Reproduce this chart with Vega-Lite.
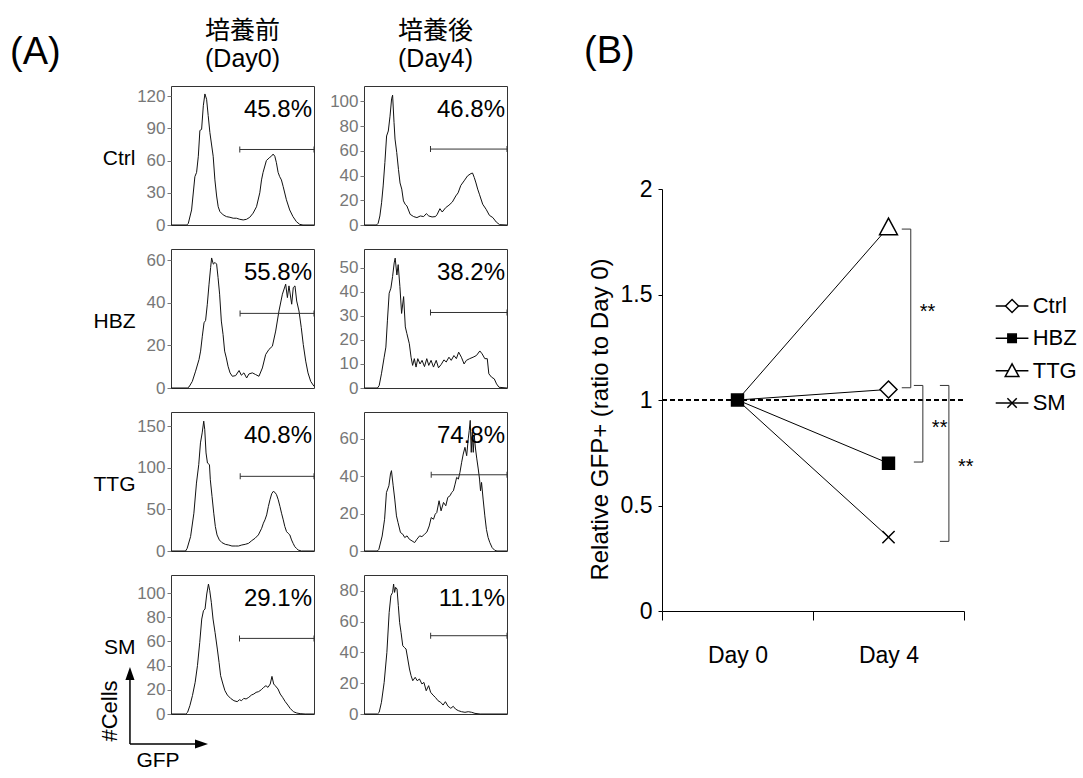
{
"$schema": "https://vega.github.io/schema/vega-lite/v6.json",
"autosize": {"type": "pad"},
"padding": {"left": 10, "top": 18, "right": 2, "bottom": 2},
"background": "white",
"config": {
 "font": "Liberation Sans, Noto Sans CJK JP",
 "view": {"stroke": "#333", "strokeWidth": 1},
 "title": {"fontWeight": "normal", "color": "black"},
 "axis": {"grid": false, "titleFontWeight": "normal", "titleColor": "black", "labelColor": "black"},
 "text": {"color": "black"}
},
"datasets": {
 "ctrl_d0": [{"gfp":0,"cells":0},{"gfp":11,"cells":0},{"gfp":12.1,"cells":1.5},{"gfp":14.4,"cells":14},{"gfp":16.7,"cells":45},{"gfp":17.9,"cells":49},{"gfp":19.1,"cells":64},{"gfp":20.2,"cells":88},{"gfp":21.4,"cells":89},{"gfp":22.6,"cells":111},{"gfp":23.7,"cells":122},{"gfp":24.9,"cells":117},{"gfp":26,"cells":102},{"gfp":27.2,"cells":86},{"gfp":29.5,"cells":64},{"gfp":30.7,"cells":42},{"gfp":31.9,"cells":27},{"gfp":33,"cells":17},{"gfp":34.2,"cells":12.5},{"gfp":36.5,"cells":9.4},{"gfp":38.8,"cells":7.8},{"gfp":41.2,"cells":7.2},{"gfp":43.5,"cells":6.3},{"gfp":45.8,"cells":6.3},{"gfp":48.1,"cells":5.3},{"gfp":50.5,"cells":4.7},{"gfp":52.8,"cells":5.3},{"gfp":55.1,"cells":7.2},{"gfp":57.4,"cells":11},{"gfp":59.8,"cells":17},{"gfp":62.1,"cells":30},{"gfp":63.3,"cells":42},{"gfp":64.4,"cells":49},{"gfp":66.7,"cells":60},{"gfp":69.1,"cells":63},{"gfp":70.2,"cells":64},{"gfp":71.4,"cells":66},{"gfp":72.6,"cells":64},{"gfp":73.7,"cells":58},{"gfp":74.9,"cells":49},{"gfp":76,"cells":45},{"gfp":77.2,"cells":42},{"gfp":78.4,"cells":36},{"gfp":80.7,"cells":23.5},{"gfp":83,"cells":14},{"gfp":85.3,"cells":7.8},{"gfp":87.7,"cells":3.1},{"gfp":90,"cells":0.6},{"gfp":92.3,"cells":0},{"gfp":100,"cells":0}],
 "ctrl_d4": [{"gfp":0,"cells":0},{"gfp":8.7,"cells":0},{"gfp":9.9,"cells":1.4},{"gfp":11.1,"cells":7.3},{"gfp":12.3,"cells":18},{"gfp":13.4,"cells":31.6},{"gfp":14.6,"cells":50.5},{"gfp":15.8,"cells":72},{"gfp":17,"cells":76},{"gfp":18.2,"cells":88},{"gfp":19.3,"cells":102},{"gfp":20,"cells":105},{"gfp":21,"cells":83},{"gfp":21.7,"cells":69.5},{"gfp":22.9,"cells":58.6},{"gfp":24.1,"cells":45},{"gfp":25.2,"cells":34},{"gfp":26.4,"cells":29},{"gfp":27.6,"cells":19.5},{"gfp":28.8,"cells":16.8},{"gfp":30,"cells":15.4},{"gfp":32.3,"cells":8.6},{"gfp":34.7,"cells":6.8},{"gfp":37,"cells":6},{"gfp":39.4,"cells":7.3},{"gfp":41.7,"cells":6.8},{"gfp":43.6,"cells":9.2},{"gfp":45.3,"cells":7.3},{"gfp":47.6,"cells":6.5},{"gfp":50,"cells":6.8},{"gfp":51.2,"cells":8.6},{"gfp":53.1,"cells":13.2},{"gfp":54.7,"cells":10.5},{"gfp":57.1,"cells":14},{"gfp":59.4,"cells":16},{"gfp":61.8,"cells":18.6},{"gfp":64.2,"cells":23.5},{"gfp":65.8,"cells":26},{"gfp":67.7,"cells":32},{"gfp":70,"cells":35.7},{"gfp":72.4,"cells":39.7},{"gfp":74.8,"cells":41.6},{"gfp":75.9,"cells":42},{"gfp":77.1,"cells":38.4},{"gfp":78.3,"cells":34},{"gfp":79.5,"cells":29},{"gfp":80.7,"cells":24.9},{"gfp":83,"cells":16.8},{"gfp":85.4,"cells":12.7},{"gfp":87.7,"cells":7.8},{"gfp":90.1,"cells":6},{"gfp":92.5,"cells":2.4},{"gfp":94.8,"cells":0.3},{"gfp":100,"cells":0}],
 "hbz_d0": [{"gfp":0,"cells":0},{"gfp":11.4,"cells":0},{"gfp":12.6,"cells":0.5},{"gfp":14.9,"cells":3.1},{"gfp":17.2,"cells":7.9},{"gfp":19.6,"cells":13.4},{"gfp":20.7,"cells":17.3},{"gfp":21.9,"cells":24.3},{"gfp":23.1,"cells":30.6},{"gfp":24.2,"cells":31.7},{"gfp":25.4,"cells":39.3},{"gfp":26.6,"cells":48.7},{"gfp":27.7,"cells":56.5},{"gfp":28.4,"cells":61},{"gfp":29.6,"cells":58.1},{"gfp":30.8,"cells":58.9},{"gfp":31.9,"cells":58.1},{"gfp":32.9,"cells":51.8},{"gfp":34,"cells":44},{"gfp":35.2,"cells":31.4},{"gfp":36.4,"cells":25.1},{"gfp":37.5,"cells":17.3},{"gfp":38.7,"cells":14.1},{"gfp":39.9,"cells":10.2},{"gfp":41.3,"cells":7.1},{"gfp":42.9,"cells":5.5},{"gfp":45.2,"cells":5.8},{"gfp":47.6,"cells":8.2},{"gfp":49.2,"cells":6},{"gfp":51,"cells":7.1},{"gfp":52.9,"cells":4.7},{"gfp":54.5,"cells":6.6},{"gfp":56.9,"cells":7.1},{"gfp":59.2,"cells":6.3},{"gfp":61.5,"cells":5.5},{"gfp":63.9,"cells":9.4},{"gfp":66.2,"cells":15.7},{"gfp":68.5,"cells":18.1},{"gfp":70.9,"cells":19.6},{"gfp":73.2,"cells":26.7},{"gfp":75.5,"cells":36.1},{"gfp":77.9,"cells":44},{"gfp":80.2,"cells":48.7},{"gfp":81.4,"cells":42.4},{"gfp":82.5,"cells":47.9},{"gfp":84.4,"cells":39.3},{"gfp":85.5,"cells":47.1},{"gfp":86.7,"cells":47.9},{"gfp":87.9,"cells":40.8},{"gfp":89.5,"cells":36.1},{"gfp":91.1,"cells":28.3},{"gfp":92.5,"cells":20.4},{"gfp":94.2,"cells":12.6},{"gfp":95.8,"cells":7.1},{"gfp":97.7,"cells":3.1},{"gfp":100,"cells":0.8}],
 "hbz_d4": [{"gfp":0,"cells":0},{"gfp":9.4,"cells":0},{"gfp":10.6,"cells":1},{"gfp":12.2,"cells":5.9},{"gfp":14.1,"cells":12.8},{"gfp":15.3,"cells":17},{"gfp":16.4,"cells":28.2},{"gfp":17.6,"cells":39.4},{"gfp":18.8,"cells":41.5},{"gfp":20,"cells":46.4},{"gfp":21.1,"cells":52},{"gfp":21.8,"cells":54},{"gfp":23,"cells":47},{"gfp":23.9,"cells":51.3},{"gfp":25.1,"cells":42.2},{"gfp":26.3,"cells":31},{"gfp":27.7,"cells":38},{"gfp":28.9,"cells":25.4},{"gfp":30,"cells":22.6},{"gfp":31.7,"cells":18.4},{"gfp":32.9,"cells":12.8},{"gfp":34,"cells":9.4},{"gfp":35.2,"cells":12.2},{"gfp":36.4,"cells":8.7},{"gfp":37.6,"cells":12.2},{"gfp":39.2,"cells":10},{"gfp":40.6,"cells":11.5},{"gfp":42.3,"cells":8.9},{"gfp":43.9,"cells":12.2},{"gfp":45.3,"cells":9.4},{"gfp":46.9,"cells":11.5},{"gfp":48.6,"cells":8.7},{"gfp":50.5,"cells":11.5},{"gfp":52.1,"cells":8.4},{"gfp":54,"cells":9.8},{"gfp":55.9,"cells":11.7},{"gfp":57.5,"cells":10.8},{"gfp":59.4,"cells":12.8},{"gfp":61,"cells":11.5},{"gfp":62.9,"cells":13.5},{"gfp":64.6,"cells":12.2},{"gfp":66.2,"cells":14.9},{"gfp":68.1,"cells":12.8},{"gfp":70,"cells":10},{"gfp":71.6,"cells":11.5},{"gfp":73.9,"cells":12.2},{"gfp":76.3,"cells":12.8},{"gfp":78.6,"cells":13.5},{"gfp":81,"cells":15.4},{"gfp":82.6,"cells":14.2},{"gfp":84.5,"cells":12.2},{"gfp":86.2,"cells":12.2},{"gfp":87.3,"cells":5.9},{"gfp":89.2,"cells":4.5},{"gfp":91.1,"cells":3.8},{"gfp":92.7,"cells":1.7},{"gfp":94.4,"cells":0.3},{"gfp":100,"cells":0}],
 "ttg_d0": [{"gfp":0,"cells":0},{"gfp":10.2,"cells":0},{"gfp":11.3,"cells":3.2},{"gfp":13.7,"cells":17.3},{"gfp":16,"cells":45.4},{"gfp":17.8,"cells":81.6},{"gfp":19.4,"cells":103.7},{"gfp":20.6,"cells":129.9},{"gfp":21.8,"cells":141.9},{"gfp":22.9,"cells":156},{"gfp":23.6,"cells":146},{"gfp":24.5,"cells":117.8},{"gfp":25.5,"cells":105.7},{"gfp":26.9,"cells":103.7},{"gfp":27.5,"cells":85.6},{"gfp":28.7,"cells":65.5},{"gfp":29.9,"cells":45.4},{"gfp":31,"cells":29.4},{"gfp":32.2,"cells":19.3},{"gfp":33.8,"cells":13.3},{"gfp":35.6,"cells":10.1},{"gfp":38,"cells":8},{"gfp":40.3,"cells":7.2},{"gfp":42.6,"cells":6},{"gfp":44.9,"cells":6},{"gfp":47.2,"cells":6},{"gfp":49.5,"cells":7.2},{"gfp":51.9,"cells":8},{"gfp":54.2,"cells":9.2},{"gfp":56.5,"cells":12.5},{"gfp":58.8,"cells":15.3},{"gfp":61.1,"cells":19.3},{"gfp":63.4,"cells":27.3},{"gfp":64.6,"cells":33.4},{"gfp":65.7,"cells":37.4},{"gfp":66.9,"cells":43.4},{"gfp":68.1,"cells":53.5},{"gfp":69.2,"cells":61.5},{"gfp":70.4,"cells":68.8},{"gfp":71.5,"cells":71.6},{"gfp":72.7,"cells":70.4},{"gfp":73.8,"cells":67.6},{"gfp":75,"cells":61.5},{"gfp":76.2,"cells":53.5},{"gfp":77.3,"cells":45.4},{"gfp":78.5,"cells":37.4},{"gfp":79.6,"cells":29.4},{"gfp":80.8,"cells":23.3},{"gfp":81.9,"cells":21.3},{"gfp":83.1,"cells":19.3},{"gfp":84.3,"cells":13.3},{"gfp":85.4,"cells":9.2},{"gfp":86.6,"cells":5.2},{"gfp":87.7,"cells":3.2},{"gfp":88.9,"cells":1.2},{"gfp":91.2,"cells":0},{"gfp":100,"cells":0}],
 "ttg_d4": [{"gfp":0,"cells":0},{"gfp":9.3,"cells":0},{"gfp":10.4,"cells":0.9},{"gfp":12.7,"cells":8},{"gfp":14.4,"cells":17},{"gfp":15.7,"cells":31.3},{"gfp":17.4,"cells":34.9},{"gfp":18.5,"cells":41.2},{"gfp":19.2,"cells":43},{"gfp":20.4,"cells":34.9},{"gfp":21.5,"cells":27.8},{"gfp":22.7,"cells":18.8},{"gfp":23.8,"cells":15.2},{"gfp":25.5,"cells":9.9},{"gfp":27.1,"cells":9},{"gfp":28.5,"cells":7.2},{"gfp":30.1,"cells":8.1},{"gfp":31.7,"cells":6.3},{"gfp":33.6,"cells":5.4},{"gfp":35.4,"cells":4.5},{"gfp":37,"cells":6.3},{"gfp":38.9,"cells":8.1},{"gfp":40.5,"cells":7.7},{"gfp":42.4,"cells":9},{"gfp":44,"cells":10.2},{"gfp":45.6,"cells":13.4},{"gfp":47,"cells":17.9},{"gfp":48.6,"cells":17},{"gfp":49.8,"cells":19.7},{"gfp":50.9,"cells":20.6},{"gfp":52.5,"cells":26.9},{"gfp":53.9,"cells":21.5},{"gfp":55.6,"cells":26},{"gfp":57.2,"cells":24.2},{"gfp":58.6,"cells":28.7},{"gfp":60.2,"cells":29.6},{"gfp":61.3,"cells":31.3},{"gfp":62.5,"cells":32.2},{"gfp":63.7,"cells":35.8},{"gfp":64.8,"cells":39.4},{"gfp":66,"cells":38.5},{"gfp":67.1,"cells":42.1},{"gfp":68.3,"cells":47.5},{"gfp":69.4,"cells":51.9},{"gfp":70.6,"cells":55.5},{"gfp":71.8,"cells":51},{"gfp":72.9,"cells":60},{"gfp":73.6,"cells":64.5},{"gfp":74.3,"cells":69.9},{"gfp":75,"cells":52.8},{"gfp":75.7,"cells":63.6},{"gfp":76.4,"cells":52.8},{"gfp":77.1,"cells":61.8},{"gfp":78,"cells":54.6},{"gfp":78.9,"cells":49.3},{"gfp":79.9,"cells":43.9},{"gfp":80.8,"cells":38.5},{"gfp":81.5,"cells":32.2},{"gfp":82.2,"cells":36.7},{"gfp":83.3,"cells":27.8},{"gfp":84.5,"cells":18.8},{"gfp":85.6,"cells":11.6},{"gfp":86.8,"cells":7.2},{"gfp":88,"cells":4.5},{"gfp":89.6,"cells":1.8},{"gfp":91.4,"cells":0.4},{"gfp":93,"cells":0},{"gfp":100,"cells":0}],
 "sm_d0": [{"gfp":0,"cells":0},{"gfp":10.4,"cells":0},{"gfp":11.6,"cells":1.4},{"gfp":13.2,"cells":6.9},{"gfp":15,"cells":15.2},{"gfp":16.9,"cells":26.2},{"gfp":18.5,"cells":40},{"gfp":20.1,"cells":59.2},{"gfp":21.5,"cells":78.5},{"gfp":22.7,"cells":85.4},{"gfp":23.8,"cells":86.8},{"gfp":25,"cells":99.2},{"gfp":26.2,"cells":107.4},{"gfp":27.1,"cells":101.9},{"gfp":28.2,"cells":92.3},{"gfp":29.4,"cells":78.5},{"gfp":30.8,"cells":67.5},{"gfp":32.4,"cells":53.7},{"gfp":33.6,"cells":42.7},{"gfp":34.7,"cells":31.7},{"gfp":36.3,"cells":24.8},{"gfp":37.7,"cells":19.3},{"gfp":39.4,"cells":15.7},{"gfp":41.7,"cells":12.9},{"gfp":44,"cells":11},{"gfp":46.3,"cells":10.2},{"gfp":47.9,"cells":11.8},{"gfp":49.3,"cells":11},{"gfp":50.9,"cells":12.9},{"gfp":52.5,"cells":12.4},{"gfp":54.4,"cells":13.8},{"gfp":56.3,"cells":15.7},{"gfp":57.9,"cells":16.5},{"gfp":59.5,"cells":17.9},{"gfp":61.3,"cells":18.5},{"gfp":63.2,"cells":20.1},{"gfp":64.8,"cells":22},{"gfp":66.4,"cells":23.4},{"gfp":67.8,"cells":22},{"gfp":69.4,"cells":24.8},{"gfp":70.6,"cells":31.1},{"gfp":71.8,"cells":24.8},{"gfp":72.9,"cells":23.4},{"gfp":74.8,"cells":20.7},{"gfp":76.4,"cells":16.5},{"gfp":78,"cells":13.8},{"gfp":79.9,"cells":10.2},{"gfp":81.7,"cells":7.4},{"gfp":83.3,"cells":4.7},{"gfp":85.6,"cells":1.9},{"gfp":88,"cells":0.8},{"gfp":90.3,"cells":0.3},{"gfp":93.8,"cells":0},{"gfp":100,"cells":0}],
 "sm_d4": [{"gfp":0,"cells":0},{"gfp":9.4,"cells":0},{"gfp":10.6,"cells":1.1},{"gfp":12.2,"cells":7.6},{"gfp":14.1,"cells":20.5},{"gfp":16,"cells":40},{"gfp":17.6,"cells":65.9},{"gfp":18.8,"cells":76.8},{"gfp":20,"cells":78.9},{"gfp":20.7,"cells":84.3},{"gfp":21.4,"cells":78.9},{"gfp":22.1,"cells":82.2},{"gfp":23.1,"cells":81.1},{"gfp":24,"cells":70.3},{"gfp":24.9,"cells":59.5},{"gfp":25.9,"cells":53},{"gfp":27.1,"cells":44.3},{"gfp":28.2,"cells":43.2},{"gfp":29.4,"cells":42.2},{"gfp":30.6,"cells":35.7},{"gfp":31.8,"cells":29.2},{"gfp":32.9,"cells":24.9},{"gfp":34.1,"cells":21.6},{"gfp":35.8,"cells":23.8},{"gfp":37.2,"cells":21.6},{"gfp":38.8,"cells":22.7},{"gfp":40.5,"cells":19.5},{"gfp":41.9,"cells":20.5},{"gfp":43.5,"cells":15.1},{"gfp":45.2,"cells":18.4},{"gfp":46.6,"cells":14.1},{"gfp":48.2,"cells":12.3},{"gfp":49.9,"cells":10.8},{"gfp":51.8,"cells":8.6},{"gfp":53.6,"cells":7.6},{"gfp":55.3,"cells":5.8},{"gfp":56.9,"cells":8},{"gfp":58.8,"cells":5},{"gfp":60.7,"cells":3.7},{"gfp":62.4,"cells":5},{"gfp":64,"cells":3.2},{"gfp":65.9,"cells":2.2},{"gfp":68.2,"cells":1.5},{"gfp":70.6,"cells":1.1},{"gfp":72.9,"cells":1.5},{"gfp":75.3,"cells":1.1},{"gfp":77.6,"cells":0.4},{"gfp":81.2,"cells":0},{"gfp":100,"cells":0}],
 "gates": [{"panel":"Ctrl D0","threshold":48.1,"pct":"45.8%"},{"panel":"Ctrl D4","threshold":46.5,"pct":"46.8%"},{"panel":"HBZ D0","threshold":48.3,"pct":"55.8%"},{"panel":"HBZ D4","threshold":46.5,"pct":"38.2%"},{"panel":"TTG D0","threshold":48.4,"pct":"40.8%"},{"panel":"TTG D4","threshold":47,"pct":"74.8%"},{"panel":"SM D0","threshold":47.9,"pct":"29.1%"},{"panel":"SM D4","threshold":46.6,"pct":"11.1%"}],
 "ratio": [{"group":"Ctrl","day":0,"ratio":1},{"group":"TTG","day":0,"ratio":1},{"group":"SM","day":0,"ratio":1},{"group":"HBZ","day":0,"ratio":1},{"group":"Ctrl","day":4,"ratio":1.05},{"group":"TTG","day":4,"ratio":1.82},{"group":"SM","day":4,"ratio":0.35},{"group":"HBZ","day":4,"ratio":0.7}],
 "brackets": [{"pair":"TTG vs Ctrl","lane":4.59,"upper":1.81,"lower":1.058,"sig":"**"},{"pair":"HBZ vs Ctrl","lane":4.91,"upper":1.069,"lower":0.706,"sig":"**"},{"pair":"SM vs Ctrl","lane":5.6,"upper":1.069,"lower":0.33,"sig":"**"}]
},
"hconcat": [
 {
  "title": {"text": "(A)", "anchor": "start", "frame": "group", "fontSize": 38, "dx": -161, "dy": 83, "offset": 0, "baseline": "alphabetic"},
  "columns": 2,
  "spacing": {"row": 24, "column": 50},
  "bounds": "flush",
  "resolve": {"scale": {"x": "independent", "y": "independent"}},
  "concat": [
   {"width": 143, "height": 139,
    "title": {"text": ["培養前", "(Day0)"], "anchor": "middle", "frame": "group", "fontSize": 25, "lineHeight": 28, "baseline": "alphabetic", "offset": -6},
    "resolve": {"axis": {"x": "independent", "y": "independent"}},
    "layer": [
     {"data": {"name": "ctrl_d0"}, "mark": {"type": "line", "color": "#111", "strokeWidth": 1},
      "encoding": {"x": {"field": "gfp", "type": "quantitative", "scale": {"domain": [0, 100], "nice": false, "zero": false}, "axis": null},
                   "y": {"field": "cells", "type": "quantitative", "scale": {"domain": [0, 129.4], "nice": false}, "axis": {"values": [0, 30, 60, 90, 120], "title": "Ctrl", "titleAngle": 0, "titleAlign": "right", "titleBaseline": "middle", "titleX": -36, "titleY": 72, "titleFontSize": 21, "labelFontSize": 17, "labelColor": "#777", "tickColor": "#777", "tickSize": 4, "labelPadding": 2, "domain": false}}}},
     {"data": {"name": "gates"}, "transform": [{"filter": "datum.panel == 'Ctrl D0'"}],
      "layer": [
       {"mark": {"type": "rule", "color": "#333", "strokeWidth": 1}, "encoding": {"x": {"field": "threshold", "type": "quantitative", "axis": null}, "x2": {"datum": 100}, "y": {"datum": 70.3, "type": "quantitative", "axis": null}}},
       {"mark": {"type": "tick", "orient": "vertical", "size": 6, "thickness": 1, "color": "#333", "opacity": 1}, "encoding": {"x": {"field": "threshold", "type": "quantitative", "axis": null}, "y": {"datum": 70.3, "type": "quantitative", "axis": null}}},
       {"mark": {"type": "tick", "orient": "vertical", "size": 6, "thickness": 1, "color": "#333", "opacity": 1}, "encoding": {"x": {"datum": 100, "type": "quantitative", "axis": null}, "y": {"datum": 70.3, "type": "quantitative", "axis": null}}},
       {"mark": {"type": "text", "align": "right", "baseline": "alphabetic", "dx": -2, "fontSize": 24}, "encoding": {"x": {"datum": 100, "type": "quantitative", "axis": null}, "y": {"datum": 100.5, "type": "quantitative", "axis": null}, "text": {"field": "pct"}}}
      ]}
    ]},
   {"width": 143, "height": 139,
    "title": {"text": ["培養後", "(Day4)"], "anchor": "middle", "frame": "group", "fontSize": 25, "lineHeight": 28, "baseline": "alphabetic", "offset": -6},
    "resolve": {"axis": {"x": "independent", "y": "independent"}},
    "layer": [
     {"data": {"name": "ctrl_d4"}, "mark": {"type": "line", "color": "#111", "strokeWidth": 1},
      "encoding": {"x": {"field": "gfp", "type": "quantitative", "scale": {"domain": [0, 100], "nice": false, "zero": false}, "axis": null},
                   "y": {"field": "cells", "type": "quantitative", "scale": {"domain": [0, 112.4], "nice": false}, "axis": {"values": [0, 20, 40, 60, 80, 100], "title": null, "labelFontSize": 17, "labelColor": "#777", "tickColor": "#777", "tickSize": 4, "labelPadding": 2, "domain": false}}}},
     {"data": {"name": "gates"}, "transform": [{"filter": "datum.panel == 'Ctrl D4'"}],
      "layer": [
       {"mark": {"type": "rule", "color": "#333", "strokeWidth": 1}, "encoding": {"x": {"field": "threshold", "type": "quantitative", "axis": null}, "x2": {"datum": 100}, "y": {"datum": 61.4, "type": "quantitative", "axis": null}}},
       {"mark": {"type": "tick", "orient": "vertical", "size": 6, "thickness": 1, "color": "#333", "opacity": 1}, "encoding": {"x": {"field": "threshold", "type": "quantitative", "axis": null}, "y": {"datum": 61.4, "type": "quantitative", "axis": null}}},
       {"mark": {"type": "tick", "orient": "vertical", "size": 6, "thickness": 1, "color": "#333", "opacity": 1}, "encoding": {"x": {"datum": 100, "type": "quantitative", "axis": null}, "y": {"datum": 61.4, "type": "quantitative", "axis": null}}},
       {"mark": {"type": "text", "align": "right", "baseline": "alphabetic", "dx": -2, "fontSize": 24}, "encoding": {"x": {"datum": 100, "type": "quantitative", "axis": null}, "y": {"datum": 87.3, "type": "quantitative", "axis": null}, "text": {"field": "pct"}}}
      ]}
    ]},
   {"width": 143, "height": 139,
    "resolve": {"axis": {"x": "independent", "y": "independent"}},
    "layer": [
     {"data": {"name": "hbz_d0"}, "mark": {"type": "line", "color": "#111", "strokeWidth": 1},
      "encoding": {"x": {"field": "gfp", "type": "quantitative", "scale": {"domain": [0, 100], "nice": false, "zero": false}, "axis": null},
                   "y": {"field": "cells", "type": "quantitative", "scale": {"domain": [0, 65.2], "nice": false}, "axis": {"values": [0, 20, 40, 60], "title": "HBZ", "titleAngle": 0, "titleAlign": "right", "titleBaseline": "middle", "titleX": -36, "titleY": 72, "titleFontSize": 21, "labelFontSize": 17, "labelColor": "#777", "tickColor": "#777", "tickSize": 4, "labelPadding": 2, "domain": false}}}},
     {"data": {"name": "gates"}, "transform": [{"filter": "datum.panel == 'HBZ D0'"}],
      "layer": [
       {"mark": {"type": "rule", "color": "#333", "strokeWidth": 1}, "encoding": {"x": {"field": "threshold", "type": "quantitative", "axis": null}, "x2": {"datum": 100}, "y": {"datum": 35, "type": "quantitative", "axis": null}}},
       {"mark": {"type": "tick", "orient": "vertical", "size": 6, "thickness": 1, "color": "#333", "opacity": 1}, "encoding": {"x": {"field": "threshold", "type": "quantitative", "axis": null}, "y": {"datum": 35, "type": "quantitative", "axis": null}}},
       {"mark": {"type": "tick", "orient": "vertical", "size": 6, "thickness": 1, "color": "#333", "opacity": 1}, "encoding": {"x": {"datum": 100, "type": "quantitative", "axis": null}, "y": {"datum": 35, "type": "quantitative", "axis": null}}},
       {"mark": {"type": "text", "align": "right", "baseline": "alphabetic", "dx": -2, "fontSize": 24}, "encoding": {"x": {"datum": 100, "type": "quantitative", "axis": null}, "y": {"datum": 50.7, "type": "quantitative", "axis": null}, "text": {"field": "pct"}}}
      ]}
    ]},
   {"width": 143, "height": 139,
    "resolve": {"axis": {"x": "independent", "y": "independent"}},
    "layer": [
     {"data": {"name": "hbz_d4"}, "mark": {"type": "line", "color": "#111", "strokeWidth": 1},
      "encoding": {"x": {"field": "gfp", "type": "quantitative", "scale": {"domain": [0, 100], "nice": false, "zero": false}, "axis": null},
                   "y": {"field": "cells", "type": "quantitative", "scale": {"domain": [0, 57.8], "nice": false}, "axis": {"values": [0, 10, 20, 30, 40, 50], "title": null, "labelFontSize": 17, "labelColor": "#777", "tickColor": "#777", "tickSize": 4, "labelPadding": 2, "domain": false}}}},
     {"data": {"name": "gates"}, "transform": [{"filter": "datum.panel == 'HBZ D4'"}],
      "layer": [
       {"mark": {"type": "rule", "color": "#333", "strokeWidth": 1}, "encoding": {"x": {"field": "threshold", "type": "quantitative", "axis": null}, "x2": {"datum": 100}, "y": {"datum": 31.4, "type": "quantitative", "axis": null}}},
       {"mark": {"type": "tick", "orient": "vertical", "size": 6, "thickness": 1, "color": "#333", "opacity": 1}, "encoding": {"x": {"field": "threshold", "type": "quantitative", "axis": null}, "y": {"datum": 31.4, "type": "quantitative", "axis": null}}},
       {"mark": {"type": "tick", "orient": "vertical", "size": 6, "thickness": 1, "color": "#333", "opacity": 1}, "encoding": {"x": {"datum": 100, "type": "quantitative", "axis": null}, "y": {"datum": 31.4, "type": "quantitative", "axis": null}}},
       {"mark": {"type": "text", "align": "right", "baseline": "alphabetic", "dx": -2, "fontSize": 24}, "encoding": {"x": {"datum": 100, "type": "quantitative", "axis": null}, "y": {"datum": 44.9, "type": "quantitative", "axis": null}, "text": {"field": "pct"}}}
      ]}
    ]},
   {"width": 143, "height": 139,
    "resolve": {"axis": {"x": "independent", "y": "independent"}},
    "layer": [
     {"data": {"name": "ttg_d0"}, "mark": {"type": "line", "color": "#111", "strokeWidth": 1},
      "encoding": {"x": {"field": "gfp", "type": "quantitative", "scale": {"domain": [0, 100], "nice": false, "zero": false}, "axis": null},
                   "y": {"field": "cells", "type": "quantitative", "scale": {"domain": [0, 167], "nice": false}, "axis": {"values": [0, 50, 100, 150], "title": "TTG", "titleAngle": 0, "titleAlign": "right", "titleBaseline": "middle", "titleX": -36, "titleY": 72, "titleFontSize": 21, "labelFontSize": 17, "labelColor": "#777", "tickColor": "#777", "tickSize": 4, "labelPadding": 2, "domain": false}}}},
     {"data": {"name": "gates"}, "transform": [{"filter": "datum.panel == 'TTG D0'"}],
      "layer": [
       {"mark": {"type": "rule", "color": "#333", "strokeWidth": 1}, "encoding": {"x": {"field": "threshold", "type": "quantitative", "axis": null}, "x2": {"datum": 100}, "y": {"datum": 89.7, "type": "quantitative", "axis": null}}},
       {"mark": {"type": "tick", "orient": "vertical", "size": 6, "thickness": 1, "color": "#333", "opacity": 1}, "encoding": {"x": {"field": "threshold", "type": "quantitative", "axis": null}, "y": {"datum": 89.7, "type": "quantitative", "axis": null}}},
       {"mark": {"type": "tick", "orient": "vertical", "size": 6, "thickness": 1, "color": "#333", "opacity": 1}, "encoding": {"x": {"datum": 100, "type": "quantitative", "axis": null}, "y": {"datum": 89.7, "type": "quantitative", "axis": null}}},
       {"mark": {"type": "text", "align": "right", "baseline": "alphabetic", "dx": -2, "fontSize": 24}, "encoding": {"x": {"datum": 100, "type": "quantitative", "axis": null}, "y": {"datum": 129.8, "type": "quantitative", "axis": null}, "text": {"field": "pct"}}}
      ]}
    ]},
   {"width": 143, "height": 139,
    "resolve": {"axis": {"x": "independent", "y": "independent"}},
    "layer": [
     {"data": {"name": "ttg_d4"}, "mark": {"type": "line", "color": "#111", "strokeWidth": 1},
      "encoding": {"x": {"field": "gfp", "type": "quantitative", "scale": {"domain": [0, 100], "nice": false, "zero": false}, "axis": null},
                   "y": {"field": "cells", "type": "quantitative", "scale": {"domain": [0, 74.4], "nice": false}, "axis": {"values": [0, 20, 40, 60], "title": null, "labelFontSize": 17, "labelColor": "#777", "tickColor": "#777", "tickSize": 4, "labelPadding": 2, "domain": false}}}},
     {"data": {"name": "gates"}, "transform": [{"filter": "datum.panel == 'TTG D4'"}],
      "layer": [
       {"mark": {"type": "rule", "color": "#333", "strokeWidth": 1}, "encoding": {"x": {"field": "threshold", "type": "quantitative", "axis": null}, "x2": {"datum": 100}, "y": {"datum": 40.8, "type": "quantitative", "axis": null}}},
       {"mark": {"type": "tick", "orient": "vertical", "size": 6, "thickness": 1, "color": "#333", "opacity": 1}, "encoding": {"x": {"field": "threshold", "type": "quantitative", "axis": null}, "y": {"datum": 40.8, "type": "quantitative", "axis": null}}},
       {"mark": {"type": "tick", "orient": "vertical", "size": 6, "thickness": 1, "color": "#333", "opacity": 1}, "encoding": {"x": {"datum": 100, "type": "quantitative", "axis": null}, "y": {"datum": 40.8, "type": "quantitative", "axis": null}}},
       {"mark": {"type": "text", "align": "right", "baseline": "alphabetic", "dx": -2, "fontSize": 24}, "encoding": {"x": {"datum": 100, "type": "quantitative", "axis": null}, "y": {"datum": 57.8, "type": "quantitative", "axis": null}, "text": {"field": "pct"}}}
      ]}
    ]},
   {"width": 143, "height": 139,
    "resolve": {"axis": {"x": "independent", "y": "independent"}},
    "layer": [
     {"data": {"name": "sm_d0"}, "mark": {"type": "line", "color": "#111", "strokeWidth": 1},
      "encoding": {"x": {"field": "gfp", "type": "quantitative", "scale": {"domain": [0, 100], "nice": false, "zero": false}, "axis": null},
                   "y": {"field": "cells", "type": "quantitative", "scale": {"domain": [0, 114.9], "nice": false}, "axis": {"values": [0, 20, 40, 60, 80, 100], "title": "SM", "titleAngle": 0, "titleAlign": "right", "titleBaseline": "middle", "titleX": -36, "titleY": 72, "titleFontSize": 21, "labelFontSize": 17, "labelColor": "#777", "tickColor": "#777", "tickSize": 4, "labelPadding": 2, "domain": false}}}},
     {"data": {"name": "gates"}, "transform": [{"filter": "datum.panel == 'SM D0'"}],
      "layer": [
       {"mark": {"type": "rule", "color": "#333", "strokeWidth": 1}, "encoding": {"x": {"field": "threshold", "type": "quantitative", "axis": null}, "x2": {"datum": 100}, "y": {"datum": 62.5, "type": "quantitative", "axis": null}}},
       {"mark": {"type": "tick", "orient": "vertical", "size": 6, "thickness": 1, "color": "#333", "opacity": 1}, "encoding": {"x": {"field": "threshold", "type": "quantitative", "axis": null}, "y": {"datum": 62.5, "type": "quantitative", "axis": null}}},
       {"mark": {"type": "tick", "orient": "vertical", "size": 6, "thickness": 1, "color": "#333", "opacity": 1}, "encoding": {"x": {"datum": 100, "type": "quantitative", "axis": null}, "y": {"datum": 62.5, "type": "quantitative", "axis": null}}},
       {"mark": {"type": "text", "align": "right", "baseline": "alphabetic", "dx": -2, "fontSize": 24}, "encoding": {"x": {"datum": 100, "type": "quantitative", "axis": null}, "y": {"datum": 89.3, "type": "quantitative", "axis": null}, "text": {"field": "pct"}}}
      ]},
     {"data": {"values": [{}]},
      "layer": [
       {"mark": {"type": "rule", "color": "black", "strokeWidth": 1.5}, "encoding": {"x": {"datum": -28.7, "type": "quantitative", "axis": null}, "y": {"datum": -24.8, "type": "quantitative", "axis": null}, "y2": {"datum": 28.1}}},
       {"mark": {"type": "rule", "color": "black", "strokeWidth": 1.5}, "encoding": {"x": {"datum": -28.7, "type": "quantitative", "axis": null}, "x2": {"datum": 16.8}, "y": {"datum": -24.8, "type": "quantitative", "axis": null}}},
       {"mark": {"type": "point", "shape": "M0,-1L0.35,0L-0.35,0Z", "size": 676, "filled": true, "color": "black", "opacity": 1}, "encoding": {"x": {"datum": -28.7, "type": "quantitative", "axis": null}, "y": {"datum": 28.1, "type": "quantitative", "axis": null}}},
       {"mark": {"type": "point", "shape": "M1,0L0,-0.35L0,0.35Z", "size": 676, "filled": true, "color": "black", "opacity": 1}, "encoding": {"x": {"datum": 16.8, "type": "quantitative", "axis": null}, "y": {"datum": -24.8, "type": "quantitative", "axis": null}}},
       {"mark": {"type": "text", "angle": 270, "fontSize": 22, "align": "center", "baseline": "middle"}, "encoding": {"x": {"datum": -42.7, "type": "quantitative", "axis": null}, "y": {"datum": 2.5, "type": "quantitative", "axis": null}, "text": {"value": "#Cells"}}},
       {"mark": {"type": "text", "fontSize": 21, "align": "center", "baseline": "middle"}, "encoding": {"x": {"datum": -9.1, "type": "quantitative", "axis": null}, "y": {"datum": -38.9, "type": "quantitative", "axis": null}, "text": {"value": "GFP"}}}
      ]}
    ]},
   {"width": 143, "height": 139,
    "resolve": {"axis": {"x": "independent", "y": "independent"}},
    "layer": [
     {"data": {"name": "sm_d4"}, "mark": {"type": "line", "color": "#111", "strokeWidth": 1},
      "encoding": {"x": {"field": "gfp", "type": "quantitative", "scale": {"domain": [0, 100], "nice": false, "zero": false}, "axis": null},
                   "y": {"field": "cells", "type": "quantitative", "scale": {"domain": [0, 90.2], "nice": false}, "axis": {"values": [0, 20, 40, 60, 80], "title": null, "labelFontSize": 17, "labelColor": "#777", "tickColor": "#777", "tickSize": 4, "labelPadding": 2, "domain": false}}}},
     {"data": {"name": "gates"}, "transform": [{"filter": "datum.panel == 'SM D4'"}],
      "layer": [
       {"mark": {"type": "rule", "color": "#333", "strokeWidth": 1}, "encoding": {"x": {"field": "threshold", "type": "quantitative", "axis": null}, "x2": {"datum": 100}, "y": {"datum": 50.8, "type": "quantitative", "axis": null}}},
       {"mark": {"type": "tick", "orient": "vertical", "size": 6, "thickness": 1, "color": "#333", "opacity": 1}, "encoding": {"x": {"field": "threshold", "type": "quantitative", "axis": null}, "y": {"datum": 50.8, "type": "quantitative", "axis": null}}},
       {"mark": {"type": "tick", "orient": "vertical", "size": 6, "thickness": 1, "color": "#333", "opacity": 1}, "encoding": {"x": {"datum": 100, "type": "quantitative", "axis": null}, "y": {"datum": 50.8, "type": "quantitative", "axis": null}}},
       {"mark": {"type": "text", "align": "right", "baseline": "alphabetic", "dx": -2, "fontSize": 24}, "encoding": {"x": {"datum": 100, "type": "quantitative", "axis": null}, "y": {"datum": 70.1, "type": "quantitative", "axis": null}, "text": {"field": "pct"}}}
      ]}
    ]}
  ]
 },
 {
  "spacing": 20,
  "resolve": {"scale": {"x": "independent", "y": "independent", "shape": "independent", "fill": "independent"}},
  "hconcat": [
   {"width": 302, "height": 525,
    "view": {"stroke": null},
    "title": {"text": "(B)", "anchor": "start", "frame": "group", "fontSize": 38, "dx": -78, "offset": -15, "baseline": "alphabetic"},
    "data": {"name": "ratio"},
    "resolve": {"axis": {"x": "independent", "y": "independent"}},
    "layer": [
     {"mark": {"type": "rule", "strokeDash": [5, 3], "color": "black", "strokeWidth": 1},
      "encoding": {"x": {"datum": -2, "type": "quantitative", "scale": {"domain": [-2, 6], "nice": false, "zero": false}, "axis": {"orient": "bottom", "values": [-2, 2, 6], "labels": false, "tickSize": 9, "tickColor": "black", "domainColor": "black", "title": null}},
                   "x2": {"datum": 6},
                   "y": {"datum": 1, "type": "quantitative", "scale": {"domain": [0, 2], "range": [525, 103], "nice": false}, "axis": {"values": [0, 0.5, 1, 1.5, 2], "format": "~g", "labelFontSize": 23, "tickSize": 4, "tickColor": "black", "domainColor": "black", "labelPadding": 6, "title": "Relative GFP+ (ratio to Day 0)", "titleFontSize": 24, "titlePadding": 8, "titleY": 333}}}},
     {"mark": {"type": "line", "color": "black", "strokeWidth": 1},
      "encoding": {"x": {"field": "day", "type": "quantitative", "axis": {"orient": "bottom", "values": [0, 4], "labelExpr": "'Day ' + datum.value", "ticks": false, "tickSize": 0, "domain": false, "labelFontSize": 23, "labelPadding": 33, "title": null}},
                   "y": {"field": "ratio", "type": "quantitative", "axis": null},
                   "detail": {"field": "group"}}},
     {"transform": [{"filter": "datum.day == 4 || datum.group == 'HBZ'"}],
      "mark": {"type": "point", "filled": true, "stroke": "black", "strokeWidth": 1.5, "size": 289, "opacity": 1},
      "encoding": {"x": {"field": "day", "type": "quantitative", "axis": null},
                   "y": {"field": "ratio", "type": "quantitative", "axis": null},
                   "shape": {"field": "group", "type": "nominal", "scale": {"domain": ["Ctrl", "HBZ", "TTG", "SM"], "range": ["M0,-1L1,0L0,1L-1,0Z", "M-0.7,-0.7L0.7,-0.7L0.7,0.7L-0.7,0.7Z", "M0,-1.05L1.05,0.9L-1.05,0.9Z", "M-0.72,-0.72L0.72,0.72M-0.72,0.72L0.72,-0.72"]}, "legend": null},
                   "fill": {"field": "group", "type": "nominal", "scale": {"domain": ["Ctrl", "HBZ", "TTG", "SM"], "range": ["white", "black", "white", "white"]}, "legend": null}}},
     {"data": {"name": "brackets"},
      "layer": [
       {"mark": {"type": "rule", "color": "#333", "strokeWidth": 1}, "encoding": {"x": {"field": "lane", "type": "quantitative", "axis": null}, "y": {"field": "upper", "type": "quantitative", "axis": null}, "y2": {"field": "lower"}}},
       {"transform": [{"fold": ["upper", "lower"], "as": ["end", "v"]}], "mark": {"type": "point", "shape": "M-1,0L0,0", "size": 324, "filled": false, "stroke": "#333", "strokeWidth": 1, "opacity": 1}, "encoding": {"x": {"field": "lane", "type": "quantitative", "axis": null}, "y": {"field": "v", "type": "quantitative", "axis": null}}},
       {"transform": [{"fold": ["upper", "lower"], "as": ["end", "v"]}], "mark": {"type": "text", "align": "left", "baseline": "middle", "dx": 9, "dy": 4, "fontSize": 20}, "encoding": {"x": {"field": "lane", "type": "quantitative", "axis": null}, "y": {"aggregate": "mean", "field": "v", "type": "quantitative", "axis": null}, "text": {"field": "sig"}, "detail": {"field": "pair"}}}
      ]}
    ]},
   {"width": 86, "height": 340,
    "view": {"stroke": null},
    "data": {"name": "ratio"},
    "transform": [{"filter": "datum.day == 4"}],
    "layer": [
     {"mark": {"type": "rule", "color": "black", "strokeWidth": 1.5},
      "encoding": {"x": {"datum": 0.02, "type": "quantitative", "scale": {"domain": [0, 1], "nice": false, "zero": false}, "axis": null}, "x2": {"datum": 0.4},
                   "y": {"field": "group", "type": "nominal", "scale": {"type": "point", "domain": ["Ctrl", "HBZ", "TTG", "SM"], "range": [220, 317], "padding": 0}, "axis": null}}},
     {"mark": {"type": "point", "filled": true, "stroke": "black", "strokeWidth": 1.5, "size": 169, "opacity": 1},
      "encoding": {"x": {"datum": 0.21, "type": "quantitative", "axis": null},
                   "y": {"field": "group", "type": "nominal", "axis": null},
                   "shape": {"field": "group", "type": "nominal", "scale": {"domain": ["Ctrl", "HBZ", "TTG", "SM"], "range": ["M0,-1L1,0L0,1L-1,0Z", "M-0.65,-0.65L0.65,-0.65L0.65,0.65L-0.65,0.65Z", "M0,-1.05L1.05,0.9L-1.05,0.9Z", "M-0.72,-0.72L0.72,0.72M-0.72,0.72L0.72,-0.72"]}, "legend": null},
                   "fill": {"field": "group", "type": "nominal", "scale": {"domain": ["Ctrl", "HBZ", "TTG", "SM"], "range": ["white", "black", "white", "white"]}, "legend": null}}},
     {"mark": {"type": "text", "align": "left", "baseline": "middle", "fontSize": 22},
      "encoding": {"x": {"datum": 0.45, "type": "quantitative", "axis": null},
                   "y": {"field": "group", "type": "nominal", "axis": null},
                   "text": {"field": "group"}}}
    ]}
  ]
 }
],
"spacing": 74,
"resolve": {"scale": {"x": "independent", "y": "independent", "shape": "independent", "fill": "independent"}}
}
